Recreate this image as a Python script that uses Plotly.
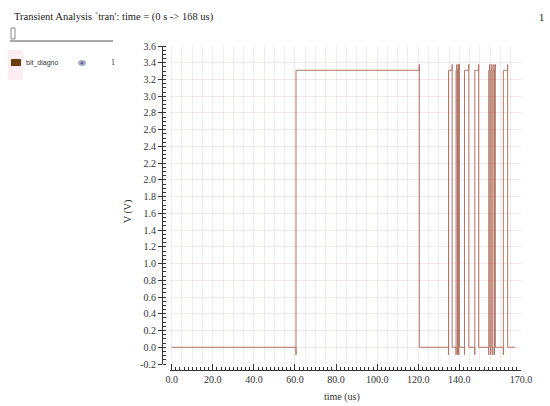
import plotly.graph_objects as go

# ---- data ----
edge_times_us = [60.5, 120.5, 134.7, 136.5, 138.4, 138.8, 139.1, 139.5, 139.7, 140.0,
                 142.5, 144.6, 147.5, 149.4, 154.3, 154.8, 155.3, 155.8, 156.3, 156.8,
                 157.1, 157.5, 161.4, 163.5]
t_start_us = 0.0
t_end_us = 167.2
v_low = 0.0
v_high = 3.31
v_undershoot = -0.09
v_overshoot = 3.38

x_tick_vals = [0, 20, 40, 60, 80, 100, 120, 140, 170]
x_tick_text = ["0.0", "20.0", "40.0", "60.0", "80.0", "100.0", "120.0", "140.0", "170.0"]
y_tick_vals = [-0.2, 0.0, 0.2, 0.4, 0.6, 0.8, 1.0, 1.2, 1.4, 1.6, 1.8, 2.0, 2.2, 2.4,
               2.6, 2.8, 3.0, 3.2, 3.4, 3.6]
y_tick_text = ["%.1f" % v for v in y_tick_vals]

# build the waveform from the edge list (rise/fall alternate, starting low)
xs = [t_start_us]
ys = [v_low]
level = v_low
for t in edge_times_us:
    xs.append(t); ys.append(level)
    if level == v_low:
        xs += [t, t]; ys += [v_undershoot, v_high]
        level = v_high
    else:
        xs += [t, t]; ys += [v_overshoot, v_low]
        level = v_low
xs.append(t_end_us); ys.append(level)

W, H = 550, 406
def px(x): return x / W
def py(y): return 1 - y / H

SERIF = "Liberation Serif, DejaVu Serif, serif"
SANS = "Liberation Sans, DejaVu Sans, sans-serif"
grid_col = "rgba(228,196,196,0.38)"
line_col = "rgb(178,118,102)"

fig = go.Figure()
fig.add_trace(go.Scatter(x=xs, y=ys, mode="lines", line=dict(color=line_col, width=1),
                         xaxis="x", yaxis="y", showlegend=False, hoverinfo="skip"))
fig.add_trace(go.Scatter(x=[0], y=[0], mode="markers", marker=dict(opacity=0),
                         xaxis="x2", yaxis="y", showlegend=False, hoverinfo="skip"))

xr = [-0.83, 170]
fig.update_layout(
    width=W, height=H, margin=dict(l=0, r=0, t=0, b=0),
    paper_bgcolor="white", plot_bgcolor="white", showlegend=False,
    xaxis=dict(domain=[px(170), px(521)], range=xr, anchor="y", dtick=5, tick0=0,
               showgrid=True, gridcolor=grid_col, gridwidth=1, zeroline=False,
               showticklabels=False, ticks="", showline=False),
    xaxis2=dict(overlaying="x", anchor="free", position=(H - 370) / H, range=xr,
                tickmode="array", tickvals=x_tick_vals, ticktext=x_tick_text,
                ticks="inside", ticklen=6, tickcolor="#333", showline=True,
                linecolor="#333", linewidth=1, showgrid=False, zeroline=False,
                tickfont=dict(family=SERIF, size=10, color="#333"),
                minor=dict(dtick=2, tick0=0, ticks="inside", ticklen=3, tickcolor="#333"),
                automargin=False),
    yaxis=dict(domain=[(H - 364) / H, (H - 46) / H], range=[-0.2, 3.6], anchor="free",
               position=px(162), tickmode="array", tickvals=y_tick_vals, ticktext=y_tick_text,
               ticks="outside", ticklen=4, tickcolor="#333", showline=True, linecolor="#333",
               showgrid=True, gridcolor=grid_col, zeroline=False,
               tickfont=dict(family=SERIF, size=10, color="#333"),
               minor=dict(dtick=0.05, tick0=0, ticks="inside", ticklen=3, tickcolor="#333"),
               automargin=False),
)

ann = []
ann.append(dict(x=px(12), y=py(17), xref="paper", yref="paper", xanchor="left", yanchor="middle",
                text="Transient Analysis `tran': time = (0 s -&gt; 168 us)", showarrow=False,
                font=dict(family=SERIF, size=10.5, color="#222")))
ann.append(dict(x=px(541), y=py(17), xref="paper", yref="paper", xanchor="center", yanchor="middle",
                text="1", showarrow=False, font=dict(family=SERIF, size=10.5, color="#222")))
ann.append(dict(x=px(24), y=py(63), xref="paper", yref="paper", xanchor="left", yanchor="middle",
                text="bit_diagno", showarrow=False, font=dict(family=SANS, size=7, color="#333")))
ann.append(dict(x=px(113), y=py(63), xref="paper", yref="paper", xanchor="center", yanchor="middle",
                text="1", showarrow=False, font=dict(family=SERIF, size=8, color="#333")))
ann.append(dict(x=px(128), y=py(212), xref="paper", yref="paper", xanchor="center", yanchor="middle",
                text="V (V)", textangle=-90, showarrow=False,
                font=dict(family=SERIF, size=10, color="#333")))
ann.append(dict(x=px(342), y=py(397), xref="paper", yref="paper", xanchor="center", yanchor="middle",
                text="time (us)", showarrow=False, font=dict(family=SERIF, size=10, color="#333")))
fig.update_layout(annotations=ann)

shapes = []
# legend background / swatch / eye
shapes.append(dict(type="rect", xref="paper", yref="paper", x0=px(8), x1=px(23), y0=py(80), y1=py(50),
                   fillcolor="rgba(250,225,235,0.6)", line=dict(width=0), layer="below"))
shapes.append(dict(type="rect", xref="paper", yref="paper", x0=px(11), x1=px(21), y0=py(66), y1=py(59),
                   fillcolor="#6b3e12", line=dict(width=0)))
shapes.append(dict(type="circle", xref="paper", yref="paper", x0=px(78), x1=px(86), y0=py(66), y1=py(60),
                   fillcolor="#aab0cc", line=dict(width=0)))
shapes.append(dict(type="circle", xref="paper", yref="paper", x0=px(80.5), x1=px(83.5), y0=py(64.5), y1=py(61.5),
                   fillcolor="#606890", line=dict(width=0)))
# slider box and separator line
shapes.append(dict(type="rect", xref="paper", yref="paper", x0=px(11), x1=px(15), y0=py(39), y1=py(28),
                   fillcolor="white", line=dict(color="#888", width=1)))
shapes.append(dict(type="line", xref="paper", yref="paper", x0=px(10), x1=px(113), y0=py(41), y1=py(41),
                   line=dict(color="#555", width=1)))
fig.update_layout(shapes=shapes)

fig.write_html("out.html", config={"displayModeBar": False},
               post_script="document.body.style.margin='0';document.body.style.padding='0';"
                           "document.body.style.overflow='hidden';")
